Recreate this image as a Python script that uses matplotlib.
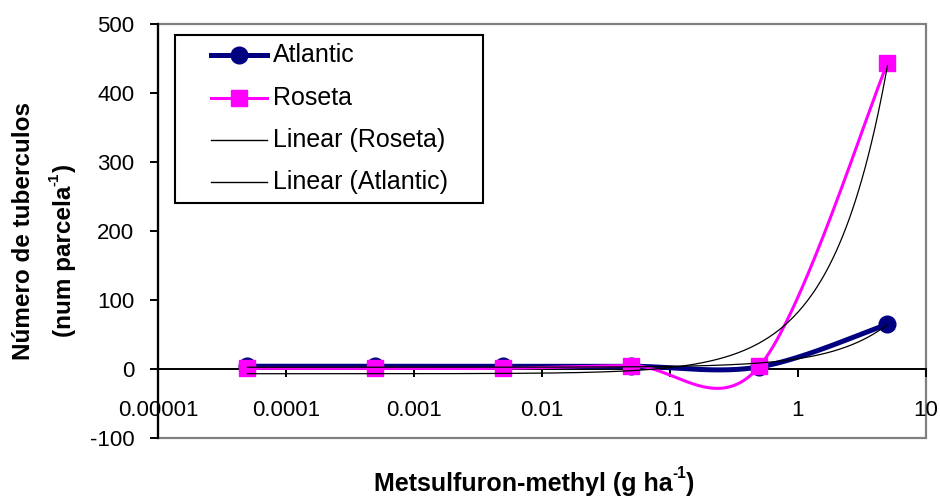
import numpy as np
import matplotlib
matplotlib.use('Agg')
import matplotlib.pyplot as plt
from matplotlib.lines import Line2D
from matplotlib.patches import Rectangle
from matplotlib.ticker import FixedLocator, FixedFormatter, NullLocator

plt.rcParams['font.family'] = ['Liberation Sans', 'DejaVu Sans']
plt.rcParams['axes.unicode_minus'] = False

# ---- data ----
doses = [0.00005, 0.0005, 0.005, 0.05, 0.5, 5]
atlantic = [4, 4, 4, 4, 3, 65]
roseta = [1, 1, 1, 5, 4, 443]
series_names = ["Atlantic", "Roseta"]
trend_names = ["Linear (Roseta)", "Linear (Atlantic)"]
x_ticks = [0.00001, 0.0001, 0.001, 0.01, 0.1, 1, 10]
x_tick_labels = ["0.00001", "0.0001", "0.001", "0.01", "0.1", "1", "10"]
y_ticks = [-100, 0, 100, 200, 300, 400, 500]

NAVY = '#000080'
MAGENTA = '#FF00FF'


def smooth(xs, ys, n=80):
    """Excel-style smoothed line (Catmull-Rom Bezier) in log-x space."""
    P = np.column_stack([np.log10(xs), np.asarray(ys, float)])
    out = []
    for i in range(len(P) - 1):
        p0 = P[i - 1] if i > 0 else P[i]
        p1, p2 = P[i], P[i + 1]
        p3 = P[i + 2] if i + 2 < len(P) else P[i + 1]
        c1 = p1 + (p2 - p0) / 6
        c2 = p2 - (p3 - p1) / 6
        t = np.linspace(0, 1, n)[:, None]
        seg = (1 - t) ** 3 * p1 + 3 * (1 - t) ** 2 * t * c1 + 3 * (1 - t) * t ** 2 * c2 + t ** 3 * p2
        out.append(seg if i == 0 else seg[1:])
    S = np.vstack(out)
    return 10 ** S[:, 0], S[:, 1]


def linear_trend(xs, ys):
    b, a = np.polyfit(xs, ys, 1)
    xx = np.logspace(np.log10(min(xs)), np.log10(max(xs)), 400)
    return xx, a + b * xx


W, H = 940, 499
fig = plt.figure(figsize=(W / 100, H / 100), dpi=100)
ax = fig.add_axes([158 / W, 61 / H, (926 - 158) / W, (438 - 24) / H])
ax.set_xscale('log')
ax.set_xlim(1e-5, 10)
ax.set_ylim(-100, 500)

# series
sx, sy = smooth(doses, atlantic)
ax.plot(sx, sy, color=NAVY, lw=3.6, zorder=3, solid_capstyle='round')
ax.plot(doses, atlantic, 'o', color=NAVY, ms=12, zorder=3)
sx, sy = smooth(doses, roseta)
ax.plot(sx, sy, color=MAGENTA, lw=2.2, zorder=4)
ax.plot(doses, roseta, 's', color=MAGENTA, ms=11, zorder=4)

# trendlines
tx, ty = linear_trend(doses, roseta)
ax.plot(tx, ty, color='black', lw=0.9, zorder=5)
tx, ty = linear_trend(doses, atlantic)
ax.plot(tx, ty, color='black', lw=0.9, zorder=5)

# axes styling
for s in ['top', 'right']:
    ax.spines[s].set_visible(False)
ax.spines['left'].set_color('black')
ax.spines['left'].set_linewidth(1.6)
ax.spines['left'].set_zorder(6)
ax.spines['bottom'].set_position(('data', 0))
ax.spines['bottom'].set_color('black')
ax.spines['bottom'].set_linewidth(1.4)
ax.add_patch(Rectangle((0, 0), 1, 1, transform=ax.transAxes, fill=False,
                       edgecolor='#808080', lw=1.6, clip_on=False, zorder=1))

ax.xaxis.set_major_locator(FixedLocator(x_ticks))
ax.xaxis.set_major_formatter(FixedFormatter(x_tick_labels))
ax.xaxis.set_minor_locator(NullLocator())
ax.yaxis.set_major_locator(FixedLocator(y_ticks))
ax.tick_params(axis='x', direction='out', length=6, width=1.4, pad=16, labelsize=16)
ax.tick_params(axis='y', direction='out', length=6, width=1.4, pad=11, labelsize=16)


def fx(px):
    return px / W


def fy(py):
    return 1 - py / H


# x-axis title with superscript
XL = 18
t1 = fig.text(fx(374), fy(484), "Metsulfuron-methyl (g ha", ha='left', va='center',
              fontsize=XL, fontweight='bold')
t2 = fig.text(0, 0, "-1", fontsize=XL * 0.62, fontweight='bold', ha='left', va='bottom')
t2.set_position((0, 0))
a2 = fig.add_artist(plt.Annotation("-1", xy=(1.0, 0.62), xycoords=t1, ha='left', va='bottom',
                                   fontsize=XL * 0.62, fontweight='bold'))
t2.remove()
a3 = fig.add_artist(plt.Annotation(")", xy=(1.0, 0.5), xycoords=(a2, t1), ha='left',
                                   va='center', fontsize=XL, fontweight='bold'))

# y-axis title (two lines)
YL = 17.5
fig.text(fx(24), fy(231), "Número de tuberculos", rotation=90,
         ha='center', va='center', fontsize=YL, fontweight='bold')
m1 = fig.text(fx(64), fy(337), "(num parcela", rotation=90,
              ha='center', va='bottom', fontsize=YL, fontweight='bold')
s1 = fig.add_artist(plt.Annotation("-1", xy=(0.38, 1.0), xycoords=m1, rotation=90,
                                   ha='right', va='bottom', fontsize=YL * 0.62,
                                   fontweight='bold'))
fig.add_artist(plt.Annotation(")", xy=(0.5, 1.0), xycoords=(m1, s1), rotation=90,
                              ha='center', va='bottom', fontsize=YL, fontweight='bold'))

# legend (manual, Excel style)
fig.patches.append(Rectangle((fx(175), fy(203)), fx(483) - fx(175), fy(35) - fy(203),
                             transform=fig.transFigure, facecolor='white',
                             edgecolor='black', lw=1.5, zorder=10))
entries = [
    (series_names[0], dict(color=NAVY, lw=3.6, marker='o', ms=12)),
    (series_names[1], dict(color=MAGENTA, lw=2.2, marker='s', ms=11)),
    (trend_names[0], dict(color='black', lw=1.0)),
    (trend_names[1], dict(color='black', lw=1.0)),
]
ys_leg = [55, 98, 140, 182]
for (label, style), py in zip(entries, ys_leg):
    mk = style.pop('marker', None)
    ms = style.pop('ms', None)
    fig.lines.append(Line2D([fx(211), fx(267)], [fy(py), fy(py)], transform=fig.transFigure,
                            zorder=11, **style))
    if mk:
        fig.lines.append(Line2D([fx(239)], [fy(py)], transform=fig.transFigure, zorder=12,
                                marker=mk, ms=ms, color=style['color'], lw=0))
    fig.text(fx(273), fy(py), label, ha='left', va='center', fontsize=18, zorder=12)

fig.savefig('out.png', dpi=100, facecolor='white')
